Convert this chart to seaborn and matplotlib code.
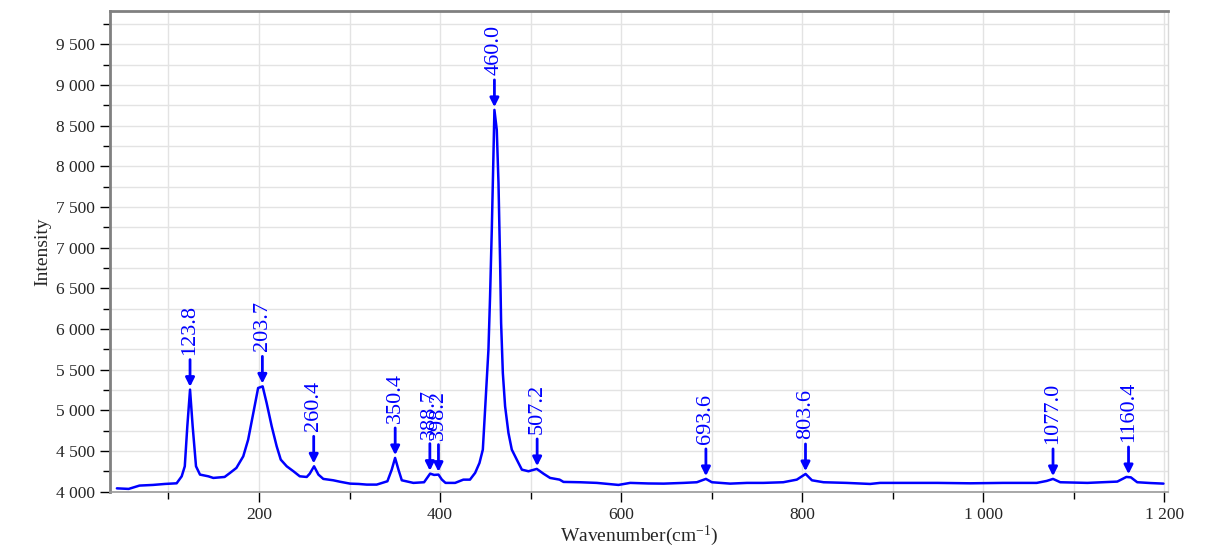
import numpy as np
import pandas as pd
import matplotlib
matplotlib.use("Agg")
import matplotlib.pyplot as plt
from matplotlib.ticker import MultipleLocator, FuncFormatter
import seaborn as sns

# spectrum (wavenumber, intensity)
wavenumber = [43, 56, 68, 83, 96, 109, 114.6, 118, 120.8, 123.8, 126.7, 130.4,
              134.8, 144, 149.5, 162, 168, 175, 182.6, 188, 193.7, 199, 204,
              208.4, 214, 219.5, 224, 230.6, 238, 245, 252.7, 256, 260.8, 265.6,
              271, 282, 290, 300.6, 310, 319, 330, 341.8, 346.6, 350.3, 354,
              357.7, 370.5, 382.3, 389, 393.4, 398.2, 402, 406, 416.6, 425.7,
              433, 438.7, 443.5, 447.2, 449.7, 453.4, 455.2, 457.1, 458.9, 460,
              462.6, 464.5, 466.3, 467.4, 469.3, 471.8, 475.5, 479.2, 484.7,
              490.3, 497.6, 506.8, 514.2, 521.5, 532, 536.3, 554.7, 573.1, 597,
              610, 630, 647, 669, 683.6, 693.6, 700.2, 720.4, 739, 757, 779, 794,
              803.7, 810.7, 823.5, 849, 875, 886, 912, 949, 985.6, 1022, 1059,
              1070, 1077, 1085, 1115, 1148, 1158, 1163, 1170, 1185, 1199]
intensity = [4040, 4033, 4074, 4082, 4094, 4102, 4188, 4311, 4803, 5254, 4803,
             4311, 4209, 4188, 4168, 4180, 4230, 4291, 4434, 4639, 4967, 5274,
             5294, 5090, 4803, 4557, 4393, 4311, 4250, 4188, 4180, 4220, 4311,
             4209, 4156, 4139, 4120, 4098, 4094, 4086, 4086, 4127, 4270, 4414,
             4270, 4139, 4107, 4115, 4221, 4205, 4209, 4147, 4107, 4107, 4147,
             4147, 4230, 4352, 4516, 5008, 5745, 6400, 7220, 8121, 8694, 8449,
             7794, 6811, 6073, 5459, 5049, 4721, 4516, 4393, 4270, 4250, 4279,
             4220, 4168, 4147, 4119, 4115, 4107, 4082, 4107, 4100, 4098, 4107,
             4115, 4156, 4115, 4098, 4107, 4107, 4115, 4147, 4217, 4139, 4115,
             4107, 4094, 4107, 4107, 4107, 4102, 4107, 4107, 4131, 4156, 4115,
             4107, 4123, 4180, 4175, 4115, 4105, 4098]

# marked peaks
peak_labels = ["123.8", "203.7", "260.4", "350.4", "388.7", "398.2", "460.0",
               "507.2", "693.6", "803.6", "1077.0", "1160.4"]
peak_x = [123.8, 203.7, 260.4, 350.4, 388.7, 398.2, 460.0, 507.2, 693.6,
          803.6, 1077.0, 1160.4]
peak_y = [5254, 5294, 4311, 4414, 4221, 4209, 8694, 4279, 4156, 4217, 4156,
          4180]

df = pd.DataFrame({"Wavenumber": wavenumber, "Intensity": intensity})

sns.set_style("whitegrid")
plt.rcParams["font.family"] = ["Liberation Serif", "DejaVu Serif"]
plt.rcParams["mathtext.default"] = "regular"

fig = plt.figure(figsize=(12.23, 5.56), dpi=100)
ax = fig.add_axes([110 / 1223, 1 - 492 / 556, 1058 / 1223, 481 / 556])

sns.lineplot(data=df, x="Wavenumber", y="Intensity", color="#0000ff",
             linewidth=1.8, ax=ax)

blue = "#0000ff"
for lab, px, py in zip(peak_labels, peak_x, peak_y):
    ax.annotate("", xy=(px, py), xytext=(0, 30), textcoords="offset pixels",
                arrowprops=dict(arrowstyle="-|>", color=blue, lw=2,
                                mutation_scale=13, shrinkA=0, shrinkB=2))
    ax.annotate(lab, xy=(px, py), xytext=(0, 35), textcoords="offset pixels",
                rotation=90, ha="center", va="bottom", color=blue, fontsize=16)

ax.set_xlim(35.4, 1204)
ax.set_ylim(3995, 9910)

ax.xaxis.set_major_locator(MultipleLocator(200))
ax.xaxis.set_minor_locator(MultipleLocator(100))
ax.yaxis.set_major_locator(MultipleLocator(500))
ax.yaxis.set_minor_locator(MultipleLocator(250))

fmt = FuncFormatter(lambda v, p: f"{int(round(v)):,}".replace(",", " "))
ax.xaxis.set_major_formatter(fmt)
ax.yaxis.set_major_formatter(fmt)

ax.grid(which="both", color="#e3e3e3", linewidth=1)
ax.tick_params(which="major", length=7, width=1, color="black",
               labelsize=12.5, left=True, bottom=True, pad=4)
ax.tick_params(which="minor", length=5, width=1, color="black",
               left=True, bottom=True)

for side in ["top", "left"]:
    ax.spines[side].set_color("#808080")
    ax.spines[side].set_linewidth(2)
ax.spines["bottom"].set_color("#9a9a9a")
ax.spines["bottom"].set_linewidth(1.2)
ax.spines["right"].set_color("#d8d8d8")
ax.spines["right"].set_linewidth(1)

ax.set_xlabel("Wavenumber(cm$^{-1}$)", fontsize=14, labelpad=0)
ax.set_ylabel("Intensity", fontsize=14, labelpad=3)

fig.savefig("out.png", dpi=100)
